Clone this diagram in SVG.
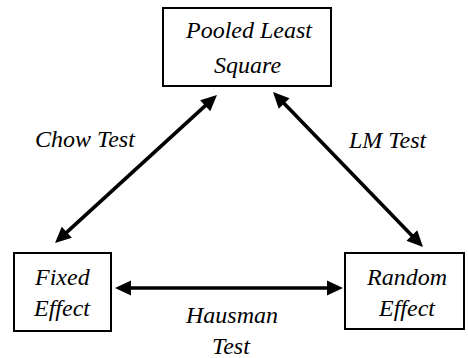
<svg xmlns="http://www.w3.org/2000/svg" width="468" height="358" viewBox="0 0 468 358">
  <style>
    .box { fill: #ffffff; stroke: #000000; stroke-width: 2; }
    .conn { stroke: #000000; stroke-width: 3.6; fill: none; }
    .head { fill: #000000; stroke: none; }
  </style>
  <rect width="468" height="358" fill="#ffffff"/>

  <g id="connectors">
    <!-- Chow Test: Fixed Effect <-> Pooled Least Square -->
    <line class="conn" x1="63.9" y1="234.9" x2="208.1" y2="103.1"/>
    <polygon class="head" points="55,243 71.87,237.75 61.75,226.67"/>
    <polygon class="head" points="217,95 210.25,111.33 200.13,100.25"/>
    <!-- LM Test: Pooled Least Square <-> Random Effect -->
    <line class="conn" x1="281.3" y1="100.6" x2="414.7" y2="238.4"/>
    <polygon class="head" points="273,92 289.52,98.28 278.74,108.72"/>
    <polygon class="head" points="423,247 417.26,230.28 406.48,240.72"/>
    <!-- Hausman Test: Fixed Effect <-> Random Effect -->
    <line class="conn" x1="127" y1="288" x2="331" y2="288"/>
    <polygon class="head" points="115,288 131,280.5 131,295.5"/>
    <polygon class="head" points="343,288 327,280.5 327,295.5"/>
    <text x="35" y="147" font-family="Liberation Serif" font-style="italic" font-size="24">Chow Test</text>
    <text x="349" y="148" font-family="Liberation Serif" font-style="italic" font-size="24">LM Test</text>
    <text x="186" y="323" font-family="Liberation Serif" font-style="italic" font-size="24">Hausman</text>
    <text x="212" y="354" font-family="Liberation Serif" font-style="italic" font-size="24">Test</text>
  </g>

  <g id="pooled-least-square">
    <rect class="box" x="163" y="8" width="168" height="78"/>
    <text x="186" y="38" font-family="Liberation Serif" font-style="italic" font-size="24">Pooled Least</text>
    <text x="214" y="73" font-family="Liberation Serif" font-style="italic" font-size="24">Square</text>
  </g>

  <g id="fixed-effect">
    <rect class="box" x="14" y="253" width="97" height="78"/>
    <text x="35" y="285" font-family="Liberation Serif" font-style="italic" font-size="24">Fixed</text>
    <text x="34" y="316" font-family="Liberation Serif" font-style="italic" font-size="24">Effect</text>
  </g>

  <g id="random-effect">
    <rect class="box" x="345" y="253" width="119" height="76"/>
    <text x="367" y="285" font-family="Liberation Serif" font-style="italic" font-size="24">Random</text>
    <text x="379" y="316" font-family="Liberation Serif" font-style="italic" font-size="24">Effect</text>
  </g>
</svg>
